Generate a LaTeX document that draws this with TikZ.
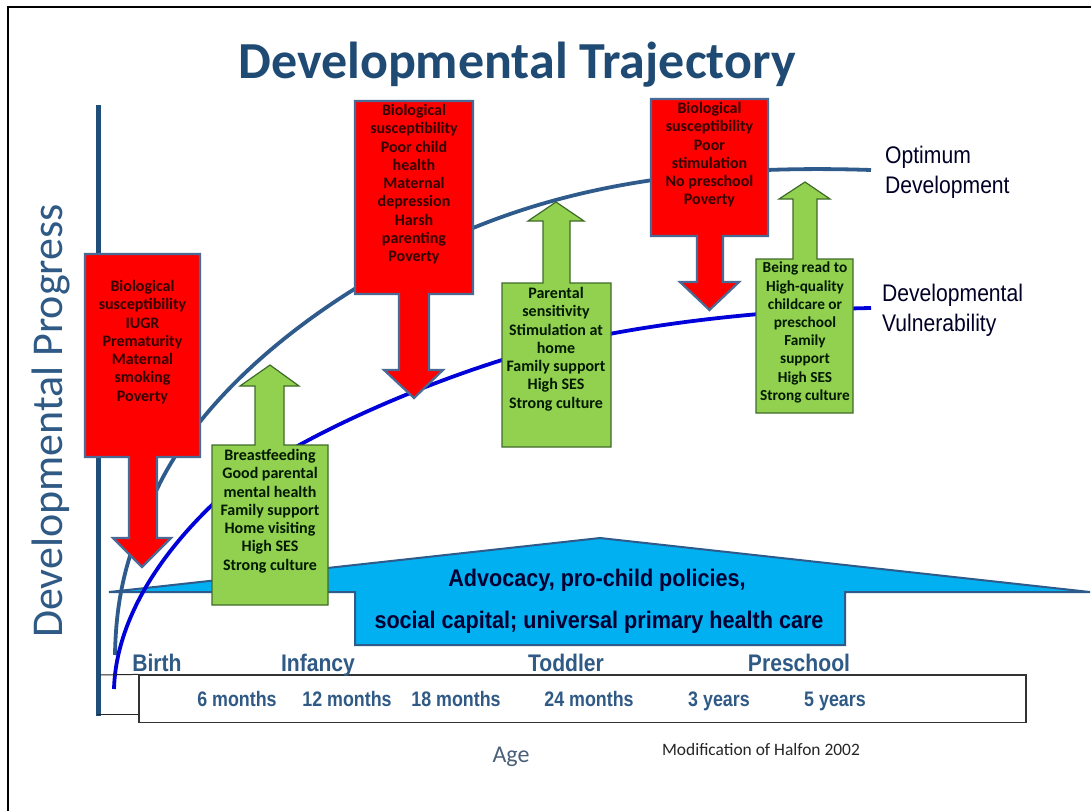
\documentclass[tikz,border=0pt]{standalone}
\usepackage{fontspec}
\setmainfont{Carlito}
\newfontfamily\arialf{Liberation Sans}
\definecolor{axisblue}{HTML}{1F4E79}
\definecolor{curveblue}{HTML}{2F5B8C}
\definecolor{edgeblue}{HTML}{4A6A96}
\definecolor{purecurve}{HTML}{0000D8}
\definecolor{humpfill}{HTML}{00B0F0}
\definecolor{leaf}{HTML}{92D050}
\definecolor{leafedge}{HTML}{3E6B2A}
\definecolor{labelblue}{HTML}{2F5A85}
\definecolor{titleblue}{HTML}{1F4A73}
\definecolor{agegrey}{HTML}{4A5F78}
\tikzset{
  redshape/.style={fill=red,draw=edgeblue,line width=2.2pt,line join=miter},
  greenshape/.style={fill=leaf,draw=leafedge,line width=1.2pt,line join=miter},
  redtext/.style={font=\fontsize{16}{18.3}\selectfont\bfseries,text=black!80!red,align=center,anchor=north,inner sep=0pt},
  greentext/.style={font=\fontsize{16}{18.3}\selectfont\bfseries,text=black!90!green,align=center,anchor=north,inner sep=0pt},
  stage/.style={font=\arialf\fontsize{24}{24}\selectfont\bfseries,text=labelblue,inner sep=0pt,xscale=0.88,anchor=base},
  month/.style={font=\arialf\fontsize{21}{24}\selectfont\bfseries,text=labelblue,inner sep=0pt,xscale=0.85,anchor=base},
  side/.style={font=\arialf\fontsize{24}{30}\selectfont,text=black!85!blue,align=left,anchor=west,inner sep=0pt,xscale=0.88},
  hump/.style={font=\arialf\fontsize{24}{24}\selectfont\bfseries,text=black!80!blue,inner sep=0pt,xscale=0.9,anchor=base},
}
\begin{document}
\begin{tikzpicture}[x=1pt,y=-1pt]
\useasboundingbox (0,0) rectangle (1091,811);
\fill[white] (0,0) rectangle (1091,811);
\draw[black,line width=1.7pt] (8,811) -- (8,7) -- (1091,7);
% hump
\draw[fill=humpfill,draw=curveblue,line width=2pt,line join=miter] (109,592) -- (600,538) -- (1090,592) -- (845,592) -- (845,645) -- (355,645) -- (355,592) -- cycle;
% axis
\draw[axisblue,line width=5pt] (98.5,105) -- (98.5,716);
\draw[black!85,line width=1pt] (97,714.5) -- (139,714.5);
% curves
\coordinate (o0) at (115,655);
\coordinate (o1) at (158,487);
\coordinate (o2) at (473,228);
\coordinate (o3) at (871,170);
\draw[curveblue,line width=3.8pt] (o0) .. controls (116,590) and (130,545) .. (o1) .. controls (210,380) and (340,283) .. (o2) .. controls (590,180) and (720,165) .. (o3);
\coordinate (v0) at (114,689);
\coordinate (v1) at (212,505);
\coordinate (v2) at (502,360);
\coordinate (v3) at (871,308);
\draw[purecurve,line width=3.8pt] (v0) .. controls (116,620) and (160,555) .. (v1) .. controls (270,450) and (400,392) .. (v2) .. controls (610,326) and (760,310) .. (v3);
% time box
\node[draw=black!80,line width=1.2pt,inner sep=0pt,minimum width=887pt,minimum height=47.5pt] (timebox) at (582.5,698.75) {};
\draw[black!85,line width=1pt] (100,675) -- (timebox.north west);
% arrows with boxes
\draw[redshape] (85,254) -- (200,254) -- (200,457) -- (157,457) -- (157,538) -- (171,538) -- (142,567) -- (113,538) -- (129,538) -- (129,457) -- (85,457) -- cycle;
\draw[greenshape] (212,445) -- (255,445) -- (255,386) -- (240,386) -- (270,365) -- (299,386) -- (284,386) -- (284,445) -- (328,445) -- (328,605) -- (212,605) -- cycle;
\draw[redshape] (355,101) -- (473,101) -- (473,294) -- (429,294) -- (429,370) -- (443,370) -- (414,398) -- (384,370) -- (399,370) -- (399,294) -- (355,294) -- cycle;
\draw[greenshape] (502,283) -- (543,283) -- (543,221) -- (528,221) -- (556,202) -- (584,221) -- (570,221) -- (570,283) -- (611,283) -- (611,447) -- (502,447) -- cycle;
\draw[redshape] (651,99) -- (768,99) -- (768,236) -- (723,236) -- (723,282) -- (739,282) -- (709.5,310) -- (680,282) -- (697,282) -- (697,236) -- (651,236) -- cycle;
\draw[greenshape] (756,259) -- (793,259) -- (793,199) -- (779,199) -- (805,182) -- (830,199) -- (817,199) -- (817,259) -- (853,259) -- (853,413) -- (756,413) -- cycle;
% box text
\node[redtext] (r1) at (142.5,280) {Biological\\susceptibility\\IUGR\\Prematurity\\Maternal\\smoking\\Poverty};
\node[greentext] (g1) at (270,449) {Breastfeeding\\Good parental\\mental health\\Family support\\Home visiting\\High SES\\Strong culture};
\node[redtext] (r2) at (414,104) {Biological\\susceptibility\\Poor child\\health\\Maternal\\depression\\Harsh\\parenting\\Poverty};
\node[greentext] (g2) at (556,287) {Parental\\sensitivity\\Stimulation at\\home\\Family support\\High SES\\Strong culture};
\node[redtext] (r3) at (709.5,102) {Biological\\susceptibility\\Poor\\stimulation\\No preschool\\Poverty};
\node[greentext,font=\fontsize{15.3}{18.2}\selectfont\bfseries] (g3) at (805,262) {Being read to\\High-quality\\childcare or\\preschool\\Family\\support\\High SES\\Strong culture};
% titles
\node[font=\fontsize{52}{56}\selectfont\bfseries,text=titleblue,inner sep=0pt] (title) at (517,65) {Developmental Trajectory};
\node[font=\fontsize{44}{48}\selectfont,text=labelblue,rotate=90,inner sep=0pt] (ylabel) at (51,421) {Developmental Progress};
\node[side] (opt) at (885,172) {Optimum\\Development};
\node[side] (vul) at (882,310) {Developmental\\Vulnerability};
\node[hump] (h1) at (597,586) {Advocacy, pro-child policies,};
\node[hump] (h2) at (599,628) {social capital; universal primary health care};
\node[stage] (s1) at (157,671) {Birth};
\node[stage] (s2) at (318,671) {Infancy};
\node[stage] (s3) at (566,671) {Toddler};
\node[stage] (s4) at (799,671) {Preschool};
\node[month] (m1) at (237,706) {6 months};
\node[month] (m2) at (347,706) {12 months};
\node[month] (m3) at (456,706) {18 months};
\node[month] (m4) at (589,706) {24 months};
\node[month] (m5) at (719,706) {3 years};
\node[month] (m6) at (835,706) {5 years};
\node[font=\fontsize{24}{26}\selectfont,text=agegrey,inner sep=0pt] (age) at (511,756.5) {Age};
\node[font=\fontsize{17.4}{20}\selectfont,text=black!85,inner sep=0pt] (mod) at (761,749.5) {Modification of Halfon 2002};
\end{tikzpicture}
\end{document}
